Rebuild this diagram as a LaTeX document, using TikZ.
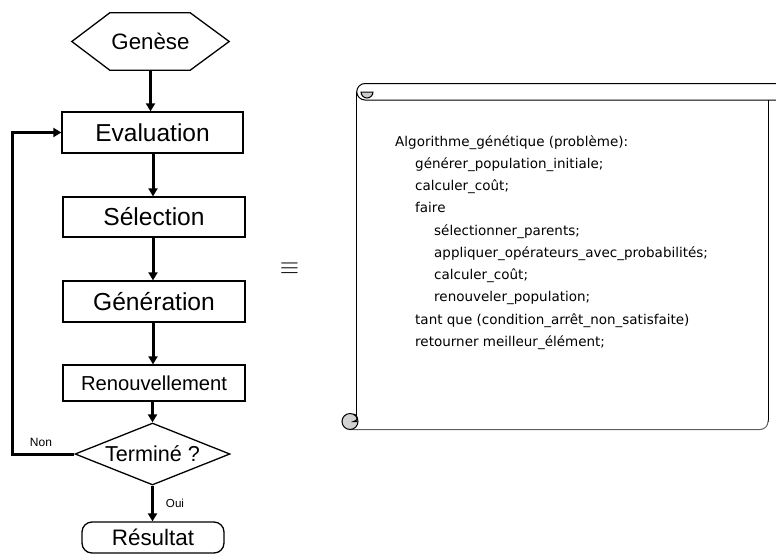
\documentclass[tikz,border=0pt]{standalone}
\usepackage{fontspec}
\setmainfont{Liberation Sans}
\newfontfamily\dejavu{DejaVu Sans}
\usetikzlibrary{shapes.geometric,arrows.meta}
\tikzset{
  fbox/.style={draw,line width=1.3pt,inner sep=0pt},
  arr/.style={line width=3pt,-{Triangle[length=8pt,width=9pt]}},
  code/.style={anchor=base west,inner sep=0pt,font=\dejavu\fontsize{13.5}{16}\selectfont},
  scrollline/.style={line width=1pt},
}
\begin{document}
\begin{tikzpicture}[x=1pt,y=1pt]
\useasboundingbox (0,0) rectangle (776,-557);
% flowchart
\node[inner sep=0pt,minimum width=157pt,minimum height=57pt,font=\fontsize{22.3}{26}\selectfont] (gen) at (150.5,-41.5) {Genèse};
\draw[line width=1.3pt] (gen.west) -- ([xshift=38pt]gen.north west) -- ([xshift=-39pt]gen.north east) -- (gen.east) -- ([xshift=-39pt]gen.south east) -- ([xshift=38pt]gen.south west) -- cycle;
\node[fbox,minimum width=181pt,minimum height=41pt,font=\fontsize{24.5}{28}\selectfont] (ev) at (152.5,-132.5) {Evaluation};
\node[fbox,minimum width=182pt,minimum height=40pt,font=\fontsize{24.6}{28}\selectfont] (sel) at (154,-217) {Sélection};
\node[fbox,minimum width=182pt,minimum height=41pt,font=\fontsize{24.6}{28}\selectfont] (gn) at (154,-301.5) {Génération};
\node[fbox,minimum width=182pt,minimum height=36pt,font=\fontsize{20.2}{24}\selectfont] (ren) at (154,-383) {Renouvellement};
\node[fbox,diamond,aspect=2.5,minimum width=155pt,minimum height=62pt,font=\fontsize{21.6}{25}\selectfont] (term) at (152.5,-454) {Terminé ?};
\node[fbox,rounded corners=10pt,minimum width=142pt,minimum height=31pt,font=\fontsize{22.4}{26}\selectfont] (res) at (153,-537.5) {Résultat};
\draw[arr] (gen.south) -- (gen.south |- ev.north);
\draw[arr] ([xshift=0.5pt]ev.south) -- ([xshift=0.5pt]ev.south |- sel.north);
\draw[arr] ([xshift=-1pt]sel.south) -- ([xshift=-1pt]sel.south |- gn.north);
\draw[arr] ([xshift=-1pt]gn.south) -- ([xshift=-1pt]gn.south |- ren.north);
\draw[arr] (ren.south -| term.north) -- (term.north);
\draw[arr] (term.south) -- (term.south |- res.north);
\draw[arr] (term.west) -- ++(-62pt,0) |- (ev.west);
\node[font=\fontsize{12}{14}\selectfont,inner sep=0pt] (non) at (41,-442) {Non};
\node[font=\fontsize{11.6}{14}\selectfont,inner sep=0pt] (oui) at (175,-503) {Oui};
% equivalence
\node[inner sep=0pt,font=\fontsize{30}{32}\selectfont] (eq) at (289.5,-268.5) {$\equiv$};
% scroll
\draw[scrollline] (776,-83.5) -- (365,-83.5) arc[start angle=90,end angle=270,radius=8.25] -- (776,-100);
\filldraw[scrollline,fill=gray!40] (361,-92) -- (373,-92) arc[start angle=0,end angle=-180,radius=6] -- cycle;
\draw[scrollline] (356.75,-91.75) -- (356.75,-421.5);
\draw[scrollline] (768,-100) -- (768,-421.5);
\draw[scrollline,draw=gray!75!black] (350,-429.5) -- (760,-429.5) arc[start angle=-90,end angle=0,radius=8] -- (768,-420);
\filldraw[scrollline,fill=gray!35] (350,-421.5) circle[radius=8];
\draw[scrollline] (353.5,-414) arc[start angle=90,end angle=-90,radius=3.75] -- (357,-421.5);
% code
\node[code] (l1) at (395,-146) {Algorithme\_génétique (problème):};
\node[code] (l2) at (415,-168) {générer\_population\_initiale;};
\node[code] (l3) at (415,-190) {calculer\_coût;};
\node[code] (l4) at (415,-212.5) {faire};
\node[code] (l5) at (434,-235) {sélectionner\_parents;};
\node[code] (l6) at (434,-257) {appliquer\_opérateurs\_avec\_probabilités;};
\node[code] (l7) at (434,-279) {calculer\_coût;};
\node[code] (l8) at (434,-301.5) {renouveler\_population;};
\node[code] (l9) at (415,-324) {tant que (condition\_arrêt\_non\_satisfaite)};
\node[code] (l10) at (415,-346.5) {retourner meilleur\_élément;};
\end{tikzpicture}
\end{document}
